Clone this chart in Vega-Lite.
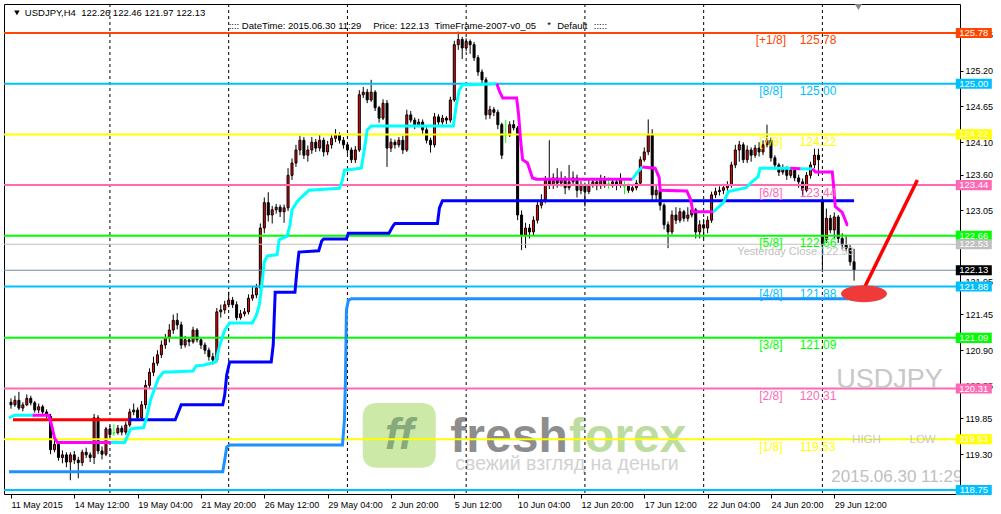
{
"$schema": "https://vega.github.io/schema/vega-lite/v6.json",
"autosize": {"type": "none"},
"padding": {"left": 4, "top": 4, "right": 41, "bottom": 20},
"width": 956,
"height": 490,
"background": "#ffffff",
"config": {"font": "Liberation Sans", "view": {"stroke": "#000000", "strokeWidth": 1, "fill": "#ffffff"}},
"datasets": {
"candles": [
{"i":0,"o":120.10,"h":120.16,"l":120.00,"c":120.06},
{"i":1,"o":120.06,"h":120.20,"l":120.03,"c":120.13},
{"i":2,"o":120.13,"h":120.26,"l":119.98,"c":120.01},
{"i":3,"o":120.01,"h":120.10,"l":119.96,"c":120.06},
{"i":4,"o":120.06,"h":120.22,"l":120.04,"c":120.16},
{"i":5,"o":120.16,"h":120.20,"l":120.05,"c":120.09},
{"i":6,"o":120.09,"h":120.12,"l":119.94,"c":119.98},
{"i":7,"o":119.98,"h":120.08,"l":119.93,"c":120.03},
{"i":8,"o":120.03,"h":120.06,"l":119.90,"c":119.95},
{"i":9,"o":119.95,"h":119.99,"l":119.85,"c":119.90},
{"i":10,"o":119.88,"h":119.92,"l":119.30,"c":119.37},
{"i":11,"o":119.37,"h":119.52,"l":119.33,"c":119.45},
{"i":12,"o":119.45,"h":119.49,"l":119.20,"c":119.25},
{"i":13,"o":119.25,"h":119.36,"l":119.16,"c":119.29},
{"i":14,"o":119.29,"h":119.33,"l":119.10,"c":119.18},
{"i":15,"o":119.18,"h":119.33,"l":118.90,"c":119.29},
{"i":16,"o":119.29,"h":119.35,"l":119.15,"c":119.21},
{"i":17,"o":119.21,"h":119.26,"l":118.93,"c":119.17},
{"i":18,"o":119.17,"h":119.37,"l":119.12,"c":119.33},
{"i":19,"o":119.33,"h":119.40,"l":119.24,"c":119.29},
{"i":20,"o":119.29,"h":119.33,"l":119.18,"c":119.25},
{"i":21,"o":119.25,"h":119.92,"l":119.15,"c":119.86},
{"i":22,"o":119.86,"h":119.90,"l":119.30,"c":119.35},
{"i":23,"o":119.35,"h":119.42,"l":119.22,"c":119.30},
{"i":24,"o":119.30,"h":119.72,"l":119.27,"c":119.69},
{"i":25,"o":119.69,"h":119.74,"l":119.56,"c":119.60},
{"i":26,"o":119.63,"h":119.76,"l":119.58,"c":119.63},
{"i":27,"o":119.63,"h":119.75,"l":119.60,"c":119.70},
{"i":28,"o":119.70,"h":119.74,"l":119.59,"c":119.64},
{"i":29,"o":119.64,"h":119.80,"l":119.60,"c":119.75},
{"i":30,"o":119.75,"h":120.00,"l":119.72,"c":119.95},
{"i":31,"o":119.95,"h":120.08,"l":119.90,"c":119.98},
{"i":32,"o":119.98,"h":120.02,"l":119.82,"c":119.86},
{"i":33,"o":119.86,"h":120.12,"l":119.84,"c":120.06},
{"i":34,"o":120.06,"h":120.44,"l":120.00,"c":120.36},
{"i":35,"o":120.36,"h":120.62,"l":120.30,"c":120.56},
{"i":36,"o":120.56,"h":120.80,"l":120.50,"c":120.70},
{"i":37,"o":120.70,"h":120.90,"l":120.66,"c":120.83},
{"i":38,"o":120.83,"h":121.05,"l":120.78,"c":120.98},
{"i":39,"o":120.98,"h":121.15,"l":120.92,"c":121.09},
{"i":40,"o":121.09,"h":121.30,"l":121.02,"c":121.21},
{"i":41,"o":121.21,"h":121.45,"l":121.15,"c":121.36},
{"i":42,"o":121.36,"h":121.47,"l":121.22,"c":121.29},
{"i":43,"o":121.29,"h":121.34,"l":120.92,"c":120.98},
{"i":44,"o":120.98,"h":121.12,"l":120.94,"c":121.06},
{"i":45,"o":121.06,"h":121.10,"l":120.96,"c":121.03},
{"i":46,"o":121.03,"h":121.26,"l":121.00,"c":121.21},
{"i":47,"o":121.21,"h":121.24,"l":121.02,"c":121.06},
{"i":48,"o":121.06,"h":121.10,"l":120.92,"c":120.98},
{"i":49,"o":120.98,"h":121.02,"l":120.84,"c":120.90},
{"i":50,"o":120.90,"h":120.94,"l":120.74,"c":120.80},
{"i":51,"o":120.80,"h":120.86,"l":120.68,"c":120.75},
{"i":52,"o":120.75,"h":121.55,"l":120.72,"c":121.49},
{"i":53,"o":121.49,"h":121.60,"l":121.40,"c":121.52},
{"i":54,"o":121.52,"h":121.66,"l":121.46,"c":121.60},
{"i":55,"o":121.60,"h":121.80,"l":121.56,"c":121.67},
{"i":56,"o":121.67,"h":121.72,"l":121.55,"c":121.60},
{"i":57,"o":121.60,"h":121.65,"l":121.36,"c":121.40},
{"i":58,"o":121.40,"h":121.52,"l":121.37,"c":121.46},
{"i":59,"o":121.46,"h":121.55,"l":121.42,"c":121.49},
{"i":60,"o":121.49,"h":121.76,"l":121.45,"c":121.70},
{"i":61,"o":121.70,"h":121.88,"l":121.66,"c":121.75},
{"i":62,"o":121.75,"h":121.92,"l":121.70,"c":121.86},
{"i":63,"o":121.86,"h":122.85,"l":121.80,"c":122.78},
{"i":64,"o":122.78,"h":123.25,"l":122.70,"c":123.17},
{"i":65,"o":123.17,"h":123.33,"l":122.88,"c":122.98},
{"i":66,"o":122.98,"h":123.12,"l":122.85,"c":123.06},
{"i":67,"o":123.06,"h":123.15,"l":123.00,"c":123.10},
{"i":68,"o":123.10,"h":123.14,"l":122.95,"c":123.03},
{"i":69,"o":123.03,"h":123.14,"l":122.86,"c":123.09},
{"i":70,"o":123.09,"h":123.70,"l":123.04,"c":123.59},
{"i":71,"o":123.59,"h":123.85,"l":123.52,"c":123.78},
{"i":72,"o":123.78,"h":124.06,"l":123.72,"c":123.98},
{"i":73,"o":123.98,"h":124.20,"l":123.90,"c":124.13},
{"i":74,"o":124.13,"h":124.18,"l":123.84,"c":123.90},
{"i":75,"o":123.90,"h":124.05,"l":123.80,"c":123.98},
{"i":76,"o":123.98,"h":124.18,"l":123.92,"c":124.10},
{"i":77,"o":124.10,"h":124.15,"l":123.95,"c":124.01},
{"i":78,"o":124.01,"h":124.22,"l":123.96,"c":124.13},
{"i":79,"o":124.13,"h":124.17,"l":123.88,"c":123.95},
{"i":80,"o":123.95,"h":124.12,"l":123.90,"c":124.06},
{"i":81,"o":124.06,"h":124.22,"l":124.00,"c":124.16},
{"i":82,"o":124.16,"h":124.30,"l":124.10,"c":124.21},
{"i":83,"o":124.21,"h":124.25,"l":124.08,"c":124.13},
{"i":84,"o":124.13,"h":124.18,"l":124.00,"c":124.06},
{"i":85,"o":124.06,"h":124.10,"l":123.92,"c":123.98},
{"i":86,"o":123.98,"h":124.02,"l":123.78,"c":123.83},
{"i":87,"o":123.83,"h":124.04,"l":123.78,"c":123.98},
{"i":88,"o":123.98,"h":124.90,"l":123.95,"c":124.83},
{"i":89,"o":124.83,"h":124.95,"l":124.78,"c":124.87},
{"i":90,"o":124.87,"h":124.92,"l":124.70,"c":124.75},
{"i":91,"o":124.75,"h":125.06,"l":124.72,"c":124.87},
{"i":92,"o":124.87,"h":124.90,"l":124.58,"c":124.63},
{"i":93,"o":124.63,"h":124.66,"l":124.40,"c":124.47},
{"i":94,"o":124.47,"h":124.76,"l":124.44,"c":124.70},
{"i":95,"o":124.70,"h":124.75,"l":123.72,"c":124.01},
{"i":96,"o":124.01,"h":124.16,"l":123.95,"c":124.10},
{"i":97,"o":124.10,"h":124.14,"l":124.00,"c":124.06},
{"i":98,"o":124.06,"h":124.18,"l":124.02,"c":124.13},
{"i":99,"o":124.13,"h":124.20,"l":123.92,"c":123.98},
{"i":100,"o":123.98,"h":124.60,"l":123.95,"c":124.52},
{"i":101,"o":124.52,"h":124.58,"l":124.40,"c":124.44},
{"i":102,"o":124.44,"h":124.48,"l":124.30,"c":124.37},
{"i":103,"o":124.37,"h":124.46,"l":124.33,"c":124.41},
{"i":104,"o":124.41,"h":124.45,"l":124.22,"c":124.29},
{"i":105,"o":124.29,"h":124.33,"l":124.08,"c":124.13},
{"i":106,"o":124.13,"h":124.17,"l":123.94,"c":124.06},
{"i":107,"o":124.06,"h":124.55,"l":124.02,"c":124.49},
{"i":108,"o":124.49,"h":124.53,"l":124.36,"c":124.41},
{"i":109,"o":124.41,"h":124.52,"l":124.37,"c":124.47},
{"i":110,"o":124.47,"h":124.50,"l":124.38,"c":124.44},
{"i":111,"o":124.44,"h":124.80,"l":124.40,"c":124.75},
{"i":112,"o":124.75,"h":125.66,"l":124.72,"c":125.60},
{"i":113,"o":125.60,"h":125.80,"l":125.52,"c":125.68},
{"i":114,"o":125.68,"h":125.72,"l":125.38,"c":125.55},
{"i":115,"o":125.55,"h":125.70,"l":125.50,"c":125.65},
{"i":116,"o":125.65,"h":125.68,"l":125.46,"c":125.60},
{"i":117,"o":125.60,"h":125.64,"l":125.35,"c":125.40},
{"i":118,"o":125.40,"h":125.44,"l":125.12,"c":125.18},
{"i":119,"o":125.18,"h":125.22,"l":125.00,"c":125.06},
{"i":120,"o":125.06,"h":125.10,"l":124.45,"c":124.52},
{"i":121,"o":124.52,"h":124.66,"l":124.46,"c":124.60},
{"i":122,"o":124.60,"h":124.64,"l":124.50,"c":124.56},
{"i":123,"o":124.56,"h":124.60,"l":124.30,"c":124.37},
{"i":124,"o":124.37,"h":124.40,"l":123.84,"c":123.90},
{"i":125,"o":124.21,"h":124.44,"l":124.09,"c":124.21},
{"i":126,"o":124.21,"h":124.42,"l":124.18,"c":124.37},
{"i":127,"o":124.37,"h":124.44,"l":124.28,"c":124.32},
{"i":128,"o":124.32,"h":124.35,"l":122.90,"c":122.98},
{"i":129,"o":122.98,"h":123.05,"l":122.44,"c":122.67},
{"i":130,"o":122.67,"h":122.86,"l":122.47,"c":122.78},
{"i":131,"o":122.78,"h":122.84,"l":122.62,"c":122.72},
{"i":132,"o":122.72,"h":122.96,"l":122.66,"c":122.90},
{"i":133,"o":122.90,"h":123.18,"l":122.85,"c":123.13},
{"i":134,"o":123.13,"h":123.30,"l":123.08,"c":123.21},
{"i":135,"o":123.21,"h":123.58,"l":123.16,"c":123.52},
{"i":136,"o":123.52,"h":124.13,"l":123.38,"c":123.44},
{"i":137,"o":123.44,"h":123.62,"l":123.38,"c":123.55},
{"i":138,"o":123.55,"h":123.70,"l":123.40,"c":123.47},
{"i":139,"o":123.47,"h":123.65,"l":123.42,"c":123.52},
{"i":140,"o":123.52,"h":123.58,"l":123.30,"c":123.40},
{"i":141,"o":123.40,"h":123.75,"l":123.36,"c":123.49},
{"i":142,"o":123.49,"h":123.65,"l":123.44,"c":123.55},
{"i":143,"o":123.55,"h":123.60,"l":123.25,"c":123.36},
{"i":144,"o":123.36,"h":123.50,"l":123.30,"c":123.44},
{"i":145,"o":123.44,"h":123.48,"l":123.11,"c":123.34},
{"i":146,"o":123.34,"h":123.52,"l":123.30,"c":123.44},
{"i":147,"o":123.44,"h":123.55,"l":123.40,"c":123.49},
{"i":148,"o":123.49,"h":123.54,"l":123.36,"c":123.43},
{"i":149,"o":123.43,"h":123.60,"l":123.38,"c":123.52},
{"i":150,"o":123.52,"h":123.58,"l":123.40,"c":123.46},
{"i":151,"o":123.46,"h":123.56,"l":123.38,"c":123.46},
{"i":152,"o":123.46,"h":123.55,"l":123.40,"c":123.49},
{"i":153,"o":123.49,"h":123.54,"l":123.36,"c":123.44},
{"i":154,"o":123.44,"h":123.62,"l":123.40,"c":123.52},
{"i":155,"o":123.42,"h":123.50,"l":123.30,"c":123.42},
{"i":156,"o":123.42,"h":123.46,"l":123.32,"c":123.36},
{"i":157,"o":123.36,"h":123.44,"l":123.33,"c":123.40},
{"i":158,"o":123.40,"h":123.52,"l":123.36,"c":123.47},
{"i":159,"o":123.47,"h":123.88,"l":123.44,"c":123.83},
{"i":160,"o":123.83,"h":124.02,"l":123.80,"c":123.95},
{"i":161,"o":123.95,"h":124.45,"l":123.90,"c":124.21},
{"i":162,"o":124.21,"h":124.30,"l":123.20,"c":123.29},
{"i":163,"o":123.29,"h":123.44,"l":123.20,"c":123.36},
{"i":164,"o":123.36,"h":123.40,"l":123.05,"c":123.13},
{"i":165,"o":123.13,"h":123.16,"l":122.76,"c":122.83},
{"i":166,"o":122.83,"h":122.88,"l":122.47,"c":122.72},
{"i":167,"o":122.72,"h":123.05,"l":122.68,"c":122.98},
{"i":168,"o":122.98,"h":123.10,"l":122.84,"c":122.90},
{"i":169,"o":122.90,"h":123.09,"l":122.86,"c":123.03},
{"i":170,"o":123.03,"h":123.06,"l":122.88,"c":122.93},
{"i":171,"o":122.93,"h":123.10,"l":122.88,"c":122.98},
{"i":172,"o":122.98,"h":123.13,"l":122.94,"c":123.06},
{"i":173,"o":123.06,"h":123.09,"l":122.62,"c":122.72},
{"i":174,"o":122.72,"h":122.90,"l":122.62,"c":122.83},
{"i":175,"o":122.83,"h":122.92,"l":122.62,"c":122.78},
{"i":176,"o":122.78,"h":122.96,"l":122.70,"c":122.90},
{"i":177,"o":122.90,"h":123.34,"l":122.86,"c":123.29},
{"i":178,"o":123.29,"h":123.40,"l":123.24,"c":123.34},
{"i":179,"o":123.34,"h":123.42,"l":123.28,"c":123.36},
{"i":180,"o":123.36,"h":123.46,"l":123.30,"c":123.40},
{"i":181,"o":123.40,"h":123.50,"l":123.34,"c":123.44},
{"i":182,"o":123.44,"h":123.80,"l":123.40,"c":123.75},
{"i":183,"o":123.75,"h":124.06,"l":123.70,"c":123.98},
{"i":184,"o":123.98,"h":124.12,"l":123.80,"c":124.06},
{"i":185,"o":124.06,"h":124.10,"l":123.78,"c":123.83},
{"i":186,"o":123.83,"h":124.05,"l":123.78,"c":123.98},
{"i":187,"o":123.98,"h":124.02,"l":123.80,"c":123.90},
{"i":188,"o":123.90,"h":124.06,"l":123.86,"c":124.01},
{"i":189,"o":124.01,"h":124.10,"l":123.88,"c":123.95},
{"i":190,"o":123.95,"h":124.13,"l":123.90,"c":124.06},
{"i":191,"o":124.06,"h":124.37,"l":124.02,"c":124.13},
{"i":192,"o":124.13,"h":124.17,"l":123.80,"c":123.86},
{"i":193,"o":123.86,"h":123.90,"l":123.68,"c":123.75},
{"i":194,"o":123.75,"h":123.78,"l":123.58,"c":123.64},
{"i":195,"o":123.64,"h":123.76,"l":123.60,"c":123.70},
{"i":196,"o":123.70,"h":123.73,"l":123.52,"c":123.59},
{"i":197,"o":123.59,"h":123.72,"l":123.55,"c":123.67},
{"i":198,"o":123.67,"h":123.70,"l":123.50,"c":123.55},
{"i":199,"o":123.55,"h":123.60,"l":123.40,"c":123.49},
{"i":200,"o":123.49,"h":123.54,"l":123.28,"c":123.36},
{"i":201,"o":123.36,"h":123.64,"l":123.33,"c":123.59},
{"i":202,"o":123.59,"h":123.80,"l":123.54,"c":123.75},
{"i":203,"o":123.75,"h":124.00,"l":123.70,"c":123.90},
{"i":204,"o":123.90,"h":124.00,"l":123.58,"c":123.83},
{"i":205,"o":123.21,"h":123.25,"l":122.10,"c":122.52},
{"i":206,"o":122.60,"h":123.08,"l":122.55,"c":122.93},
{"i":207,"o":122.93,"h":122.98,"l":122.70,"c":122.75},
{"i":208,"o":122.75,"h":123.02,"l":122.62,"c":122.95},
{"i":209,"o":122.95,"h":122.98,"l":122.55,"c":122.62},
{"i":210,"o":122.62,"h":122.70,"l":122.45,"c":122.52},
{"i":211,"o":122.52,"h":122.66,"l":122.42,"c":122.47},
{"i":212,"o":122.47,"h":122.52,"l":122.20,"c":122.26},
{"i":213,"o":122.26,"h":122.46,"l":121.97,"c":122.13}
],
"levels": [
{"lvl":"[+1/8]","p":125.78},
{"lvl":"[8/8]","p":125.00},
{"lvl":"[7/8]","p":124.22},
{"lvl":"[6/8]","p":123.44},
{"lvl":"[5/8]","p":122.66},
{"lvl":"[4/8]","p":121.88},
{"lvl":"[3/8]","p":121.09},
{"lvl":"[2/8]","p":120.31},
{"lvl":"[1/8]","p":119.53},
{"lvl":"[0/8]","p":118.75},
{"lvl":"Yesterday Close","p":122.53},
{"lvl":"Bid","p":122.13}
],
"trend": [
{"seg":"c1","dir":"up","i":-0.5,"p":119.86},{"seg":"c1","dir":"up","i":1,"p":119.90},{"seg":"c1","dir":"up","i":6,"p":119.90},
{"seg":"m1","dir":"dn","i":5.5,"p":119.90},{"seg":"m1","dir":"dn","i":9.5,"p":119.90},{"seg":"m1","dir":"dn","i":10.25,"p":119.75},{"seg":"m1","dir":"dn","i":11,"p":119.55},{"seg":"m1","dir":"dn","i":11.75,"p":119.48},{"seg":"m1","dir":"dn","i":25.25,"p":119.48},
{"seg":"c2","dir":"up","i":25.25,"p":119.48},{"seg":"c2","dir":"up","i":28.75,"p":119.48},{"seg":"c2","dir":"up","i":29.5,"p":119.59},{"seg":"c2","dir":"up","i":30.25,"p":119.69},{"seg":"c2","dir":"up","i":33.5,"p":119.71},{"seg":"c2","dir":"up","i":34.25,"p":119.86},{"seg":"c2","dir":"up","i":35.25,"p":120.13},{"seg":"c2","dir":"up","i":36,"p":120.26},{"seg":"c2","dir":"up","i":37.25,"p":120.47},{"seg":"c2","dir":"up","i":38.5,"p":120.56},{"seg":"c2","dir":"up","i":46,"p":120.58},{"seg":"c2","dir":"up","i":46.75,"p":120.66},{"seg":"c2","dir":"up","i":48.5,"p":120.67},{"seg":"c2","dir":"up","i":51.75,"p":120.72},{"seg":"c2","dir":"up","i":52.75,"p":120.98},{"seg":"c2","dir":"up","i":54,"p":121.21},{"seg":"c2","dir":"up","i":55.25,"p":121.32},{"seg":"c2","dir":"up","i":61,"p":121.32},{"seg":"c2","dir":"up","i":62,"p":121.44},{"seg":"c2","dir":"up","i":62.75,"p":121.60},{"seg":"c2","dir":"up","i":63.5,"p":121.98},{"seg":"c2","dir":"up","i":64,"p":122.26},{"seg":"c2","dir":"up","i":64.75,"p":122.35},{"seg":"c2","dir":"up","i":67.25,"p":122.37},{"seg":"c2","dir":"up","i":67.75,"p":122.60},{"seg":"c2","dir":"up","i":69.75,"p":122.65},{"seg":"c2","dir":"up","i":70.5,"p":122.83},{"seg":"c2","dir":"up","i":71,"p":123.06},{"seg":"c2","dir":"up","i":72.25,"p":123.18},{"seg":"c2","dir":"up","i":73.5,"p":123.26},{"seg":"c2","dir":"up","i":75.25,"p":123.36},{"seg":"c2","dir":"up","i":83,"p":123.39},{"seg":"c2","dir":"up","i":83.75,"p":123.52},{"seg":"c2","dir":"up","i":84.25,"p":123.67},{"seg":"c2","dir":"up","i":88.5,"p":123.70},{"seg":"c2","dir":"up","i":89.25,"p":123.98},{"seg":"c2","dir":"up","i":90,"p":124.29},{"seg":"c2","dir":"up","i":91,"p":124.35},{"seg":"c2","dir":"up","i":111.75,"p":124.35},{"seg":"c2","dir":"up","i":112.5,"p":124.67},{"seg":"c2","dir":"up","i":113.25,"p":124.90},{"seg":"c2","dir":"up","i":114,"p":124.98},{"seg":"c2","dir":"up","i":122.75,"p":125.00},
{"seg":"m2","dir":"dn","i":122.75,"p":125.00},{"seg":"m2","dir":"dn","i":123.5,"p":124.87},{"seg":"m2","dir":"dn","i":124.25,"p":124.78},{"seg":"m2","dir":"dn","i":127.75,"p":124.78},{"seg":"m2","dir":"dn","i":128.25,"p":124.52},{"seg":"m2","dir":"dn","i":128.75,"p":124.13},{"seg":"m2","dir":"dn","i":129.25,"p":123.83},{"seg":"m2","dir":"dn","i":130.5,"p":123.78},{"seg":"m2","dir":"dn","i":131.75,"p":123.55},{"seg":"m2","dir":"dn","i":132.75,"p":123.53},{"seg":"m2","dir":"dn","i":157,"p":123.53},
{"seg":"c3","dir":"up","i":157,"p":123.53},{"seg":"c3","dir":"up","i":158.25,"p":123.64},{"seg":"c3","dir":"up","i":159.5,"p":123.72},
{"seg":"m3","dir":"dn","i":159.5,"p":123.72},{"seg":"m3","dir":"dn","i":162.75,"p":123.70},{"seg":"m3","dir":"dn","i":163.75,"p":123.56},{"seg":"m3","dir":"dn","i":164,"p":123.36},{"seg":"m3","dir":"dn","i":170.75,"p":123.35},{"seg":"m3","dir":"dn","i":171.75,"p":123.21},{"seg":"m3","dir":"dn","i":172.25,"p":123.03},{"seg":"m3","dir":"dn","i":177.5,"p":123.03},
{"seg":"c4","dir":"up","i":177.5,"p":123.03},{"seg":"c4","dir":"up","i":180,"p":123.17},{"seg":"c4","dir":"up","i":181.25,"p":123.34},{"seg":"c4","dir":"up","i":185.75,"p":123.40},{"seg":"c4","dir":"up","i":187,"p":123.48},{"seg":"c4","dir":"up","i":188.75,"p":123.57},{"seg":"c4","dir":"up","i":189.25,"p":123.70},{"seg":"c4","dir":"up","i":197,"p":123.70},
{"seg":"m4","dir":"dn","i":197,"p":123.70},{"seg":"m4","dir":"dn","i":199.5,"p":123.69},
{"seg":"c5","dir":"up","i":199.5,"p":123.69},{"seg":"c5","dir":"up","i":202.5,"p":123.69},
{"seg":"m5","dir":"dn","i":202.5,"p":123.69},{"seg":"m5","dir":"dn","i":203.25,"p":123.64},{"seg":"m5","dir":"dn","i":207.5,"p":123.64},{"seg":"m5","dir":"dn","i":207.75,"p":123.48},{"seg":"m5","dir":"dn","i":208.25,"p":123.11},{"seg":"m5","dir":"dn","i":210,"p":123.02},{"seg":"m5","dir":"dn","i":211.25,"p":122.83},{"seg":"m5","dir":"dn","i":211.5,"p":122.83}
],
"steps": [
{"name":"red","i":0.5,"p":119.83},{"name":"red","i":30,"p":119.83},
{"name":"blue","i":29.75,"p":119.83},{"name":"blue","i":41.5,"p":119.83},{"name":"blue","i":42.5,"p":119.98},{"name":"blue","i":43,"p":120.06},{"name":"blue","i":53.5,"p":120.06},{"name":"blue","i":54,"p":120.21},{"name":"blue","i":54.5,"p":120.52},{"name":"blue","i":55.25,"p":120.72},{"name":"blue","i":65.75,"p":120.72},{"name":"blue","i":66.25,"p":120.98},{"name":"blue","i":66.75,"p":121.79},{"name":"blue","i":71.75,"p":121.79},{"name":"blue","i":72.25,"p":122.13},{"name":"blue","i":72.75,"p":122.41},{"name":"blue","i":77.75,"p":122.43},{"name":"blue","i":78.5,"p":122.58},{"name":"blue","i":79,"p":122.61},{"name":"blue","i":84.75,"p":122.61},{"name":"blue","i":85.25,"p":122.70},{"name":"blue","i":95.5,"p":122.70},{"name":"blue","i":96.5,"p":122.81},{"name":"blue","i":97,"p":122.85},{"name":"blue","i":107.75,"p":122.85},{"name":"blue","i":108.25,"p":123.09},{"name":"blue","i":109,"p":123.20},{"name":"blue","i":213,"p":123.20},
{"name":"low","i":-0.5,"p":119.03},{"name":"low","i":53.5,"p":119.03},{"name":"low","i":54,"p":119.21},{"name":"low","i":54.5,"p":119.41},{"name":"low","i":55.25,"p":119.44},{"name":"low","i":83.75,"p":119.44},{"name":"low","i":84.25,"p":119.83},{"name":"low","i":84.5,"p":120.44},{"name":"low","i":84.75,"p":121.52},{"name":"low","i":85.25,"p":121.67},{"name":"low","i":86,"p":121.69},{"name":"low","i":213,"p":121.69}
],
"grid": [{"i":25},{"i":55},{"i":85},{"i":115},{"i":145},{"i":175},{"i":205}],
"notes": [
{"key":"bubble","text":"","i":98.1,"p":119.59},
{"key":"ff","text":"ff","i":98.1,"p":119.58},
{"key":"fresh","text":"fresh","i":111,"p":119.34},
{"key":"forex","text":"forex","i":141,"p":119.34},
{"key":"ru","text":"свежий взгляд на деньги","i":112.25,"p":119.06},
{"key":"yc","text":"Yesterday Close 122.53","i":183.5,"p":122.41},
{"key":"sym","text":"USDJPY","i":208.5,"p":120.32},
{"key":"hl","text":"HIGH","i":212.5,"p":119.47},
{"key":"hl","text":"LOW","i":227,"p":119.47},
{"key":"dt","text":"2015.06.30 11:29","i":207.25,"p":118.87},
{"key":"hdr","text":"USDJPY,H4\u00a0\u00a0122.26 122.46 121.97 122.13","i":3.5,"p":126.085},
{"key":"hdr","text":"::::\u00a0DateTime: 2015.06.30 11:29","i":55,"p":125.895},
{"key":"hdr","text":"Price: 122.13","i":91.5,"p":125.895},
{"key":"hdr","text":"TimeFrame-2007-v0_05","i":107,"p":125.895},
{"key":"hdr","text":"*","i":135.5,"p":125.91},
{"key":"hdr","text":"Default","i":138,"p":125.895},
{"key":"hdr","text":":::::","i":147.25,"p":125.895},
{"key":"tri1","text":"","i":1.5,"p":126.09},
{"key":"tri2","text":"","i":214.1,"p":126.18},
{"key":"arrow","text":"","i":215.75,"p":121.88},
{"key":"arrow","text":"","i":229,"p":123.52},
{"key":"ell","text":"","i":215.5,"p":121.77}
]
},
"layer": [
{"data": {"name": "notes"}, "transform": [{"filter": "datum.key === 'bubble'"}],
 "mark": {"type": "point", "shape": "M-0.6,-0.89 L0.6,-0.89 Q1,-0.89 1,-0.5 L1,0.5 Q1,0.89 0.6,0.89 L-0.6,0.89 Q-1,0.89 -1,0.5 L-1,-0.5 Q-1,-0.89 -0.6,-0.89 Z", "filled": true, "size": 5329, "color": "#c6e79e", "opacity": 0.9, "strokeWidth": 0},
 "encoding": {"x": {"field": "i", "type": "quantitative", "scale": {"domain": [-0.5, 238.5], "nice": false, "zero": false},
   "axis": {"orient": "bottom", "title": null, "grid": false, "domain": false, "values": [0,16,32,48,64,80,96,112,128,144,160,176,192,208],
     "labelExpr": "['11 May 2015','14 May 12:00','19 May 04:00','21 May 20:00','26 May 12:00','29 May 04:00','2 Jun 20:00','5 Jun 12:00','10 Jun 04:00','12 Jun 20:00','17 Jun 12:00','22 Jun 04:00','24 Jun 20:00','29 Jun 12:00'][round(datum.value/16)]",
     "labelAlign": "left", "labelBaseline": "top", "labelPadding": 2, "labelFont": "Liberation Sans", "labelFontSize": 9, "labelColor": "#000000", "tickColor": "#000000", "tickSize": 4, "labelOverlap": false, "labelFlush": false, "labelBound": false}},
  "y": {"field": "p", "type": "quantitative", "scale": {"domain": [118.688, 126.226], "nice": false, "zero": false},
   "axis": {"orient": "right", "title": null, "grid": false, "domain": false, "values": [125.75,125.20,124.65,124.10,123.60,123.05,121.95,121.45,120.90,120.35,119.85,119.30],
     "format": ".2f", "labelPadding": 2, "labelFont": "Liberation Sans", "labelFontSize": 9, "labelColor": "#000000", "tickColor": "#000000", "tickSize": 3, "labelOverlap": false, "labelFlush": false, "labelBound": false, "labelBaseline": "middle"}}}},
{"data": {"name": "notes"}, "transform": [{"filter": "datum.key === 'ff'"}],
 "mark": {"type": "text", "font": "Liberation Sans", "fontSize": 44, "fontWeight": "bold", "fontStyle": "italic", "color": "#86aa7c", "align": "center", "baseline": "middle"},
 "encoding": {"x": {"field": "i", "type": "quantitative"}, "y": {"field": "p", "type": "quantitative"}, "text": {"field": "text"}}},
{"data": {"name": "notes"}, "transform": [{"filter": "datum.key === 'fresh'"}],
 "mark": {"type": "text", "font": "Liberation Sans", "fontSize": 48, "fontWeight": "bold", "color": "#8e8e8e", "align": "left", "baseline": "alphabetic"},
 "encoding": {"x": {"field": "i", "type": "quantitative"}, "y": {"field": "p", "type": "quantitative"}, "text": {"field": "text"}}},
{"data": {"name": "notes"}, "transform": [{"filter": "datum.key === 'forex'"}],
 "mark": {"type": "text", "font": "Liberation Sans", "fontSize": 48, "fontWeight": "bold", "color": "#bcdca0", "align": "left", "baseline": "alphabetic"},
 "encoding": {"x": {"field": "i", "type": "quantitative"}, "y": {"field": "p", "type": "quantitative"}, "text": {"field": "text"}}},
{"data": {"name": "notes"}, "transform": [{"filter": "datum.key === 'ru'"}],
 "mark": {"type": "text", "font": "Liberation Sans", "fontSize": 19.5, "color": "#d2d2d2", "align": "left", "baseline": "alphabetic"},
 "encoding": {"x": {"field": "i", "type": "quantitative"}, "y": {"field": "p", "type": "quantitative"}, "text": {"field": "text"}}},
{"data": {"name": "grid"},
 "mark": {"type": "rule", "color": "#000000", "strokeWidth": 1, "strokeDash": [3, 3]},
 "encoding": {"x": {"field": "i", "type": "quantitative"}}},
{"data": {"name": "candles"},
 "mark": {"type": "rule", "strokeWidth": 1},
 "encoding": {"x": {"field": "i", "type": "quantitative"}, "y": {"field": "l", "type": "quantitative"}, "y2": {"field": "h"},
  "color": {"condition": {"test": "datum.o === datum.c", "value": "#00ff00"}, "value": "#000000"}}},
{"data": {"name": "candles"},
 "mark": {"type": "bar", "size": 2, "strokeWidth": 1},
 "encoding": {"x": {"field": "i", "type": "quantitative"}, "y": {"field": "o", "type": "quantitative"}, "y2": {"field": "c"},
  "fill": {"condition": {"test": "datum.c > datum.o", "value": "#ff0000"}, "value": "#000000"},
  "stroke": {"condition": {"test": "datum.o === datum.c", "value": "#00ff00"}, "value": "#000000"}}},
{"data": {"name": "levels"},
 "mark": {"type": "rule"},
 "encoding": {"y": {"field": "p", "type": "quantitative"},
  "color": {"condition": {"test": "datum.lvl === 'Bid'", "value": "#778899"}, "field": "lvl", "type": "nominal", "legend": null,
   "scale": {"domain": ["[+1/8]","[8/8]","[7/8]","[6/8]","[5/8]","[4/8]","[3/8]","[2/8]","[1/8]","[0/8]","Yesterday Close","Bid"], "range": ["#ff4500","#00bfff","#ffff00","#ff69b4","#00ff00","#00bfff","#00ff00","#ff69b4","#ffff00","#00bfff","#c0c0c0","#000000"]}},
  "strokeWidth": {"condition": {"test": "datum.lvl === 'Bid' || datum.lvl === 'Yesterday Close'", "value": 1}, "value": 2}}},
{"data": {"name": "steps"}, "transform": [{"filter": "datum.name === 'low'"}],
 "mark": {"type": "line", "color": "#1e90ff", "strokeWidth": 3, "clip": true},
 "encoding": {"x": {"field": "i", "type": "quantitative"}, "y": {"field": "p", "type": "quantitative"}}},
{"data": {"name": "steps"}, "transform": [{"filter": "datum.name === 'red'"}],
 "mark": {"type": "line", "color": "#ff0000", "strokeWidth": 3, "clip": true},
 "encoding": {"x": {"field": "i", "type": "quantitative"}, "y": {"field": "p", "type": "quantitative"}}},
{"data": {"name": "steps"}, "transform": [{"filter": "datum.name === 'blue'"}],
 "mark": {"type": "line", "color": "#0000ff", "strokeWidth": 3, "clip": true},
 "encoding": {"x": {"field": "i", "type": "quantitative"}, "y": {"field": "p", "type": "quantitative"}}},
{"data": {"name": "trend"},
 "mark": {"type": "line", "strokeWidth": 3, "clip": true},
 "encoding": {"x": {"field": "i", "type": "quantitative"}, "y": {"field": "p", "type": "quantitative"}, "detail": {"field": "seg"},
  "stroke": {"condition": {"test": "datum.dir === 'up'", "value": "#00ffff"}, "value": "#ff00ff"}}},
{"data": {"name": "levels"}, "transform": [{"filter": "indexof(datum.lvl, '[') === 0 && datum.lvl !== '[0/8]'"}],
 "mark": {"type": "text", "font": "Liberation Sans", "fontSize": 12, "align": "center", "baseline": "middle", "dy": 7.5},
 "encoding": {"x": {"datum": 192}, "y": {"field": "p", "type": "quantitative"}, "text": {"field": "lvl"},
  "color": {"field": "lvl", "type": "nominal", "legend": null}}},
{"data": {"name": "levels"}, "transform": [{"filter": "indexof(datum.lvl, '[') === 0 && datum.lvl !== '[0/8]'"}],
 "mark": {"type": "text", "font": "Liberation Sans", "fontSize": 12, "align": "left", "baseline": "middle", "dy": 7.5},
 "encoding": {"x": {"datum": 199.25}, "y": {"field": "p", "type": "quantitative"}, "text": {"field": "p", "type": "quantitative", "format": ".2f"},
  "color": {"field": "lvl", "type": "nominal", "legend": null}}},
{"data": {"name": "notes"}, "transform": [{"filter": "datum.key === 'yc'"}],
 "mark": {"type": "text", "font": "Liberation Sans", "fontSize": 11, "color": "#c0c0c0", "align": "left", "baseline": "middle"},
 "encoding": {"x": {"field": "i", "type": "quantitative"}, "y": {"field": "p", "type": "quantitative"}, "text": {"field": "text"}}},
{"data": {"name": "notes"}, "transform": [{"filter": "datum.key === 'sym'"}],
 "mark": {"type": "text", "font": "Liberation Sans", "fontSize": 27, "color": "#c8c8c8", "align": "left", "baseline": "alphabetic"},
 "encoding": {"x": {"field": "i", "type": "quantitative"}, "y": {"field": "p", "type": "quantitative"}, "text": {"field": "text"}}},
{"data": {"name": "notes"}, "transform": [{"filter": "datum.key === 'hl'"}],
 "mark": {"type": "text", "font": "Liberation Sans", "fontSize": 11.5, "color": "#c8c8c8", "align": "left", "baseline": "alphabetic"},
 "encoding": {"x": {"field": "i", "type": "quantitative"}, "y": {"field": "p", "type": "quantitative"}, "text": {"field": "text"}}},
{"data": {"name": "notes"}, "transform": [{"filter": "datum.key === 'dt'"}],
 "mark": {"type": "text", "font": "Liberation Sans", "fontSize": 17, "color": "#c0c0c0", "align": "left", "baseline": "alphabetic", "clip": true},
 "encoding": {"x": {"field": "i", "type": "quantitative"}, "y": {"field": "p", "type": "quantitative"}, "text": {"field": "text"}}},
{"data": {"name": "notes"}, "transform": [{"filter": "datum.key === 'hdr'"}],
 "mark": {"type": "text", "font": "Liberation Sans", "fontSize": 9.5, "color": "#000000", "align": "left", "baseline": "middle"},
 "encoding": {"x": {"field": "i", "type": "quantitative"}, "y": {"field": "p", "type": "quantitative"}, "text": {"field": "text"}}},
{"data": {"name": "notes"}, "transform": [{"filter": "datum.key === 'tri1'"}],
 "mark": {"type": "point", "shape": "triangle-down", "filled": true, "size": 30, "color": "#000000", "opacity": 1},
 "encoding": {"x": {"field": "i", "type": "quantitative"}, "y": {"field": "p", "type": "quantitative"}}},
{"data": {"name": "notes"}, "transform": [{"filter": "datum.key === 'tri2'"}],
 "mark": {"type": "point", "shape": "triangle-down", "filled": true, "size": 50, "color": "#808890", "opacity": 1},
 "encoding": {"x": {"field": "i", "type": "quantitative"}, "y": {"field": "p", "type": "quantitative"}}},
{"data": {"name": "notes"}, "transform": [{"filter": "datum.key === 'arrow'"}],
 "mark": {"type": "line", "color": "#ff0000", "strokeWidth": 3.5},
 "encoding": {"x": {"field": "i", "type": "quantitative"}, "y": {"field": "p", "type": "quantitative"}}},
{"data": {"name": "notes"}, "transform": [{"filter": "datum.key === 'ell'"}],
 "mark": {"type": "point", "shape": "M-1,0 A1,0.37 0 1,1 1,0 A1,0.37 0 1,1 -1,0 Z", "filled": true, "size": 2116, "color": "#f03a3a", "opacity": 1, "strokeWidth": 0},
 "encoding": {"x": {"field": "i", "type": "quantitative"}, "y": {"field": "p", "type": "quantitative"}}},
{"data": {"name": "levels"},
 "mark": {"type": "point", "shape": "M-1,-0.28H1V0.28H-1Z", "filled": true, "size": 1296, "opacity": 1, "strokeWidth": 0, "clip": false},
 "encoding": {"x": {"datum": 243.25}, "y": {"field": "p", "type": "quantitative"},
  "color": {"field": "lvl", "type": "nominal", "legend": null}}},
{"data": {"name": "levels"},
 "mark": {"type": "text", "font": "Liberation Sans", "fontSize": 9.5, "color": "#ffffff", "align": "center", "baseline": "middle", "clip": false},
 "encoding": {"x": {"datum": 243.25}, "y": {"field": "p", "type": "quantitative"}, "text": {"field": "p", "type": "quantitative", "format": ".2f"}}}
]
}
